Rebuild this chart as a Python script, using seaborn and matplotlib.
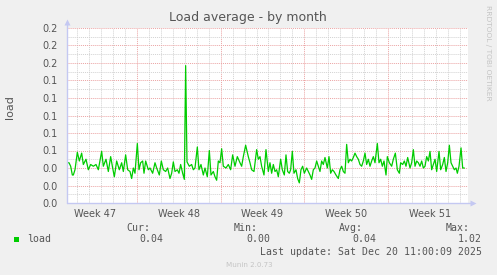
import matplotlib
matplotlib.use("Agg")
import matplotlib.pyplot as plt
import matplotlib.ticker as mticker
from matplotlib.patches import Rectangle
import seaborn as sns
import pandas as pd

# ---- data (days since Mon 17 Nov 2025 00:00, load average) ----
days = [1.14, 1.307, 1.447, 1.586, 1.670, 1.809, 2.005, 2.172, 2.367, 2.507, 2.730, 2.925,
        3.120, 3.344, 3.567, 3.762, 4.041, 4.180, 4.404, 4.599, 4.794, 4.962, 5.101, 5.296,
        5.519, 5.715, 5.854, 6.049, 6.217, 6.412, 6.551, 6.691, 6.830, 7.026, 7.165, 7.305,
        7.472, 7.584, 7.723, 7.946, 8.086, 8.309, 8.504, 8.644, 8.867, 9.034, 9.201, 9.397,
        9.564, 9.759, 9.899, 10.038, 10.178, 10.373, 10.512, 10.652, 10.819, 10.959, 11.070,
        11.182, 11.377, 11.572, 11.712, 11.851, 12.047, 12.186, 12.353, 12.549, 12.688,
        12.883, 13.051, 13.190, 13.386, 13.525, 13.664, 13.804, 13.943, 14.083, 14.222,
        14.445, 14.641, 14.836, 15.003, 15.199, 15.394, 15.617, 15.757, 15.896, 16.091,
        16.314,
        16.454, 16.594, 16.789, 17.012, 17.151, 17.291, 17.430, 17.626, 17.793, 17.988,
        18.128, 18.267, 18.407, 18.546, 18.686, 18.825, 19.020, 19.160, 19.327, 19.467,
        19.606, 19.746, 19.857, 19.997, 20.136, 20.304, 20.443, 20.583, 20.722, 20.862,
        21.001, 21.197, 21.336, 21.476, 21.615, 21.755, 21.894, 22.034, 22.173, 22.313,
        22.452, 22.592, 22.731, 22.927, 23.066, 23.206, 23.345, 23.485, 23.652, 23.847,
        23.987, 24.126, 24.266, 24.405, 24.545, 24.684, 24.824, 24.963, 25.103, 25.242,
        25.382, 25.521, 25.661, 25.800, 25.940, 26.080, 26.219, 26.359, 26.498, 26.638,
        26.777, 26.917, 27.112, 27.252, 27.391, 27.531, 27.670, 27.838, 27.949, 28.117,
        28.312, 28.451, 28.619, 28.786, 28.954, 29.065, 29.233, 29.372, 29.512, 29.651,
        29.847, 29.986, 30.126, 30.265, 30.405, 30.544, 30.684, 30.823, 30.963, 31.102,
        31.242, 31.381, 31.521, 31.660, 31.800, 31.939, 32.079, 32.274, 32.414, 32.581,
        32.720, 32.860, 33.000, 33.139, 33.279, 33.418, 33.558, 33.697, 33.809, 33.948,
        34.116, 34.255, 34.395]
load = [0.046, 0.046, 0.042, 0.032, 0.032, 0.038, 0.058, 0.048, 0.057, 0.044, 0.050, 0.038,
        0.044, 0.042, 0.044, 0.038, 0.059, 0.042, 0.050, 0.036, 0.053, 0.040, 0.030, 0.048,
        0.038, 0.046, 0.036, 0.055, 0.038, 0.036, 0.028, 0.040, 0.034, 0.068, 0.038, 0.046,
        0.048, 0.034, 0.048, 0.038, 0.040, 0.034, 0.046, 0.040, 0.032, 0.048, 0.038, 0.036,
        0.040, 0.028, 0.034, 0.047, 0.036, 0.038, 0.034, 0.044, 0.034, 0.027, 0.157,
        0.047, 0.042, 0.044, 0.038, 0.040, 0.064, 0.038, 0.044, 0.032, 0.040,
        0.030, 0.060, 0.032, 0.036, 0.030, 0.026, 0.048, 0.046, 0.062, 0.042,
        0.040, 0.044, 0.038, 0.055, 0.042, 0.053, 0.046, 0.042, 0.053, 0.066,
        0.053,
        0.046, 0.038, 0.036, 0.061, 0.050, 0.053, 0.042, 0.032, 0.061, 0.036,
        0.046, 0.034, 0.044, 0.036, 0.038, 0.030, 0.050, 0.038, 0.032, 0.055,
        0.036, 0.034, 0.038, 0.059, 0.034, 0.038, 0.028, 0.023, 0.038, 0.042,
        0.034, 0.040, 0.036, 0.032, 0.027, 0.038, 0.040, 0.048, 0.042, 0.036,
        0.048, 0.044, 0.052, 0.040, 0.053, 0.034, 0.038, 0.036, 0.032, 0.028,
        0.038, 0.042, 0.036, 0.034, 0.067, 0.046, 0.050, 0.048, 0.052, 0.057,
        0.053, 0.050, 0.044, 0.042, 0.048, 0.057, 0.044, 0.050, 0.042, 0.048,
        0.053, 0.046, 0.068, 0.046, 0.050, 0.042, 0.048, 0.032, 0.053, 0.046,
        0.042, 0.050, 0.057, 0.038, 0.034, 0.046, 0.044, 0.048, 0.042, 0.052,
        0.040, 0.046, 0.061, 0.042, 0.048, 0.046, 0.042, 0.048, 0.040, 0.042,
        0.053, 0.048, 0.059, 0.038, 0.044, 0.050, 0.036, 0.059, 0.038, 0.044,
        0.052, 0.036, 0.046, 0.066, 0.046, 0.042, 0.038, 0.040, 0.034, 0.042,
        0.063, 0.040, 0.040]

week_starts = [7, 14, 21, 28]          # Mondays (days since 17 Nov)
week_labels = ["Week 47", "Week 48", "Week 49", "Week 50", "Week 51"]
x_range = (1.14, 34.70)
y_max = 0.2
y_step = 0.02

legend_name = "load"
stat_names = ["Cur:", "Min:", "Avg:", "Max:"]
stat_values = ["0.04", "0.00", "0.04", "1.02"]
last_update = "Last update: Sat Dec 20 11:00:09 2025"
title = "Load average - by month"
y_label = "load"

# ---- styling ----
W, H = 497, 275
BG = "#F0F0F0"
GREEN = "#00CC00"
MAJ = "#EBA3A3"
MIN = "#D2D2D2"
AXC = "#C4C8F2"
TXT = "#555555"

sns.set_style("white")
plt.rcParams["font.family"] = ["DejaVu Sans"]

fig = plt.figure(figsize=(W / 100, H / 100), dpi=100, facecolor=BG)
ax = fig.add_axes([67 / W, (H - 203) / H, (468 - 67) / W, (203 - 28) / H])
ax.set_facecolor("white")

df = pd.DataFrame({"day": days, "load": load})
sns.lineplot(data=df, x="day", y="load", ax=ax, color=GREEN, lw=0.9, zorder=5)

ax.set_xlim(*x_range)
ax.set_ylim(0, y_max)

# y axis ticks / grid
ax.yaxis.set_major_locator(mticker.MultipleLocator(y_step))
ax.yaxis.set_minor_locator(mticker.MultipleLocator(y_step / 2))
ax.yaxis.set_major_formatter(mticker.FormatStrFormatter("%.1f"))
# x axis ticks / grid
ax.xaxis.set_major_locator(mticker.FixedLocator(week_starts))
ax.xaxis.set_minor_locator(mticker.MultipleLocator(1))
ax.xaxis.set_major_formatter(mticker.NullFormatter())

ax.grid(which="major", color=MAJ, ls=(0, (1, 1)), lw=0.7, zorder=1)
ax.grid(which="minor", color=MIN, ls=(0, (1, 1)), lw=0.7, zorder=0)
ax.tick_params(axis="y", which="major", length=3, color=MAJ, labelsize=7,
               labelcolor=TXT, pad=4)
ax.tick_params(axis="y", which="minor", length=0)
ax.tick_params(axis="x", which="major", length=3, color=MAJ, direction="out")
ax.tick_params(axis="x", which="minor", length=0)

ax.set_xlabel("")
ax.set_ylabel("")
for s in ax.spines.values():
    s.set_visible(False)

# axis lines with arrows
ax.plot([0, 0], [0, 1.03], transform=ax.transAxes, color=AXC, lw=1, clip_on=False, zorder=6)
ax.plot([0, 1.01], [0, 0], transform=ax.transAxes, color=AXC, lw=1, clip_on=False, zorder=6)
ax.plot([0], [1.035], transform=ax.transAxes, marker="^", ms=4, color=AXC,
        clip_on=False, zorder=6, mec="none")
ax.plot([1.012], [0], transform=ax.transAxes, marker=">", ms=4, color=AXC,
        clip_on=False, zorder=6, mec="none")

# week labels centred mid-week
import matplotlib.transforms as mtrans
trans = mtrans.blended_transform_factory(ax.transData, ax.transAxes)
mids = [week_starts[0] - 3.5] + [w + 3.5 for w in week_starts]
for m, lab in zip(mids, week_labels):
    ax.text(m, -0.035, lab, transform=trans, ha="center", va="top",
            fontsize=7, color=TXT)


def ftxt(x, y, s, **kw):
    fig.text(x / W, 1 - y / H, s, **kw)


ftxt(248, 18, title, ha="center", va="center", fontsize=9, color=TXT)
ftxt(10, 107, y_label, ha="center", va="center", fontsize=8, color=TXT, rotation=90)
ftxt(488, 53, "RRDTOOL / TOBI OETIKER", ha="center", va="center", fontsize=5.4,
     color="#C4C4C4", rotation=270)

MONO = "DejaVu Sans Mono"
fig.patches.append(Rectangle((14 / W, 1 - 242 / H), 5 / W, 5 / H, transform=fig.transFigure,
                             facecolor=GREEN, edgecolor="none"))
ftxt(27, 239, legend_name, ha="left", va="center", fontsize=7.1, color=TXT, family=MONO)
name_ends = [150, 258, 363, 470]
val_ends = [163, 270, 376, 482]
for n, v, ne, ve in zip(stat_names, stat_values, name_ends, val_ends):
    ftxt(ne, 228, n, ha="right", va="center", fontsize=7.1, color=TXT, family=MONO)
    ftxt(ve, 239, v, ha="right", va="center", fontsize=7.1, color=TXT, family=MONO)
ftxt(482, 252, last_update, ha="right", va="center", fontsize=7.1, color=TXT, family=MONO)
ftxt(249, 265, "Munin 2.0.73", ha="center", va="center", fontsize=5.1, color="#C4C4C4")

fig.savefig("out.png", dpi=100, facecolor=BG)
